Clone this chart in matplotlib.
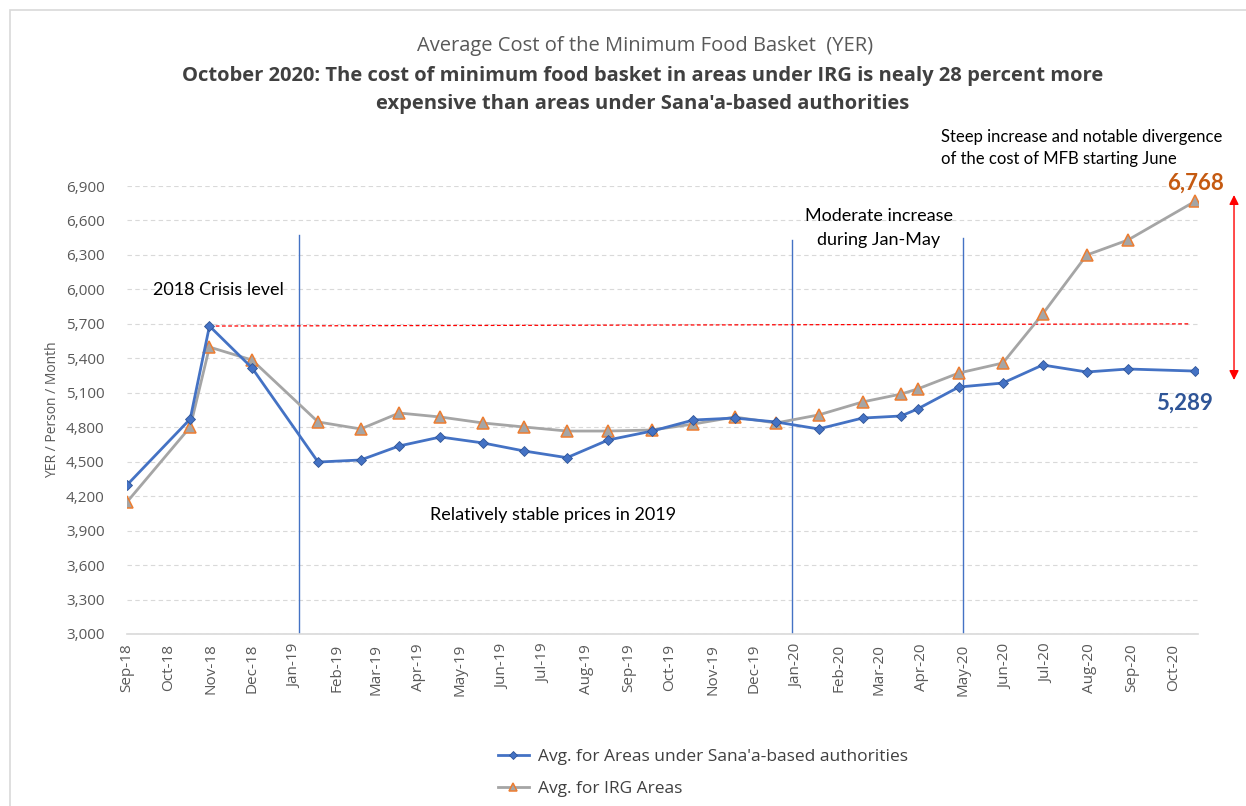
import pandas as pd
import matplotlib.pyplot as plt
import matplotlib.dates as mdates
from matplotlib.patches import Rectangle
from matplotlib.ticker import FuncFormatter
from matplotlib.transforms import blended_transform_factory


# survey dates and average MFB cost in YER
dates = pd.to_datetime([
    "2018-09-01", "2018-10-17", "2018-10-31", "2018-12-01", "2019-01-18",
    "2019-02-18", "2019-03-18", "2019-04-17", "2019-05-18", "2019-06-17",
    "2019-07-18", "2019-08-17", "2019-09-18", "2019-10-18", "2019-11-17",
    "2019-12-17", "2020-01-17", "2020-02-18", "2020-03-17", "2020-03-29",
    "2020-04-28", "2020-05-30", "2020-06-28", "2020-07-30", "2020-08-29",
    "2020-10-17",
])
sanaa = [4297, 4872, 5681, 5316, 4497, 4515, 4637, 4715, 4663, 4593,
         4535, 4689, 4767, 4863, 4880, 4846, 4785, 4880, 4898, 4959,
         5150, 5185, 5342, 5281, 5307, 5289]
irg = [4149, 4802, 5498, 5385, 4846, 4785, 4924, 4889, 4837, 4802,
       4767, 4767, 4776, 4828, 4889, 4837, 4907, 5020, 5089, 5133,
       5272, 5359, 5786, 6299, 6430, 6768]

month_ticks = pd.date_range("2018-09-01", "2020-10-01", freq="MS")
period_lines = pd.to_datetime(["2019-01-04", "2019-12-29", "2020-05-01"])
period_tops = [6473, 6430, 6447]

BLUE = "#4472C4"
GREY = "#A5A5A5"
ORANGE = "#ED7D31"
TEXT = "#595959"
CAL = ["Lato", "DejaVu Sans"]

plt.rcParams["font.family"] = ["Open Sans", "DejaVu Sans"]

fig = plt.figure(figsize=(12.46, 8.06), dpi=100)
fig.patches.append(Rectangle((10 / 1246, -0.01), 1.2, 1.01 - 10 / 806,
                             transform=fig.transFigure, fill=False,
                             edgecolor="#D9D9D9", lw=1.2))
ax = fig.add_axes([0.1019, 0.2134, 0.8596, 0.5558])

ax.plot(dates, sanaa, color=BLUE, lw=2, marker="D", markersize=5.5,
        markerfacecolor=BLUE, markeredgecolor="#2F5597", markeredgewidth=0.6,
        label="Avg. for Areas under Sana'a-based authorities", zorder=4)
ax.plot(dates, irg, color=GREY, lw=2, marker="^", markersize=8,
        markerfacecolor=GREY, markeredgecolor=ORANGE, markeredgewidth=1.1,
        label="Avg. for IRG Areas", zorder=3)

# period separators
for d, top in zip(period_lines, period_tops):
    ax.plot([d, d], [3000, top], color=BLUE, lw=1, zorder=2)

# 2018 crisis level
ax.plot([dates[2], dates[-1] - pd.Timedelta(days=4)], [sanaa[2], 5700],
        color="red", lw=0.9, ls=(0, (3, 2)), zorder=2)

ax.set_xlim(pd.Timestamp("2018-09-01"), dates[-1] + pd.Timedelta(days=2))
ax.set_ylim(3000, 6900)
ax.set_yticks(range(3000, 6901, 300))
ax.yaxis.set_major_formatter(FuncFormatter(lambda v, p: f"{int(v):,}"))
ax.set_xticks(month_ticks)
ax.xaxis.set_major_formatter(mdates.DateFormatter("%b-%y"))
ax.tick_params(axis="x", rotation=90, length=0, labelsize=11, colors=TEXT, pad=7)
ax.tick_params(axis="y", length=0, labelsize=11, colors=TEXT, pad=16)
ax.grid(axis="y", color="#D9D9D9", ls=(0, (4, 3)), lw=0.8)
ax.set_axisbelow(True)
for side in ["top", "right", "left"]:
    ax.spines[side].set_visible(False)
ax.spines["bottom"].set_color("#D9D9D9")
ax.spines["bottom"].set_linewidth(1.2)
ax.set_ylabel("YER / Person / Month", fontsize=10, color=TEXT, labelpad=4)

# annotations
ax.text(pd.Timestamp("2018-09-20"), 5950, "2018 Crisis level", fontsize=13,
        family=CAL, color="black")
ax.text(pd.Timestamp("2019-07-08"), 3990, "Relatively stable prices in 2019",
        ha="center", fontsize=13, family=CAL, color="black")
ax.text(pd.Timestamp("2020-03-01"), 6390, "Moderate increase\nduring Jan-May",
        ha="center", fontsize=13, family=CAL, color="black", linespacing=1.55)
fig.text(941 / 1246, 1 - 167 / 806,
         "Steep increase and notable divergence\nof the cost of MFB starting June",
         ha="left", va="bottom", fontsize=12, family=CAL, color="black",
         linespacing=1.45)
ax.text(dates[-1], 6830, f"{irg[-1]:,}", ha="center", va="bottom", fontsize=16,
        fontweight="bold", color="#C55A11", family=CAL)
ax.text(dates[-1] + pd.Timedelta(days=13), 5011, f"{sanaa[-1]:,}", ha="right",
        va="center", fontsize=16, fontweight="bold", color="#2F5597", family=CAL)

# divergence arrow outside the plot area
tr = blended_transform_factory(ax.transAxes, ax.transData)
ax.annotate("", xy=(1.0336, 6822), xytext=(1.0336, 5211), xycoords=tr,
            textcoords=tr, annotation_clip=False,
            arrowprops=dict(arrowstyle="<|-|>", color="red", lw=1,
                            mutation_scale=14, shrinkA=0, shrinkB=0))

fig.text(0.518, 1 - 46 / 806, "Average Cost of the Minimum Food Basket  (YER)",
         ha="center", va="center", fontsize=14.5, color=TEXT)
fig.text(0.516, 1 - 90 / 806,
         "October 2020: The cost of minimum food basket in areas under IRG is nealy 28 percent more\n"
         "expensive than areas under Sana'a-based authorities",
         ha="center", va="center", fontsize=14.5, fontweight="bold", color="#404040",
         linespacing=1.5)

fig.legend(loc="upper left", bbox_to_anchor=(482 / 1246, 1 - 733 / 806),
           frameon=False, fontsize=12.5, labelspacing=0.95, handlelength=1.8,
           handletextpad=0.5, markerscale=0.8, labelcolor="#404040")

fig.savefig("out.png", dpi=100)
